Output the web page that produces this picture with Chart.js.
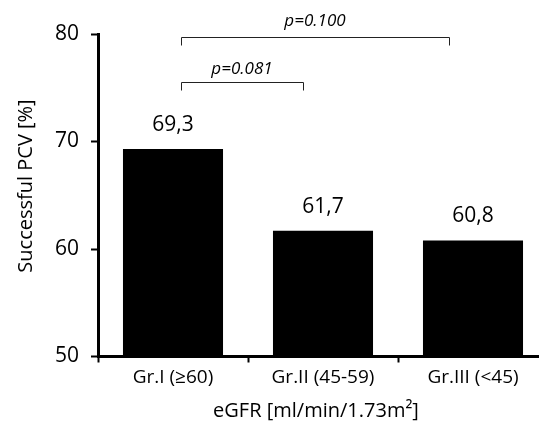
<!DOCTYPE html>
<html>
<head>
<meta charset="utf-8">
<script src="https://cdn.jsdelivr.net/npm/chart.js@4.4.1/dist/chart.umd.min.js"></script>
<style>
  html, body { margin: 0; padding: 0; overflow: hidden; background: #fff; width: 539px; height: 423px; }
  #wrap { position: absolute; left: 0; top: 0; width: 548px; height: 423px; }
</style>
</head>
<body>
<div id="wrap"><canvas id="c" width="548" height="423"></canvas></div>
<script>
const categories = ['Gr.I (\u226560)', 'Gr.II (45-59)', 'Gr.III (<45)'];
const values = [69.3, 61.7, 60.8];
const valueLabels = ['69,3', '61,7', '60,8'];
const yTicks = [50, 60, 70, 80];
const yTitle = 'Successful PCV [%]';
const xTitle = 'eGFR [ml/min/1.73m\u00B2]';
// comparisons: from category, to category, bracket level (y value), label
const compFrom = [0, 0];
const compTo = [1, 2];
const compLevel = [75.5, 79.7];
const compLabel = ['p=0.081', 'p=0.100'];

const FONT = '"Open Sans", sans-serif';

const annotate = {
  id: 'annotate',
  afterDatasetsDraw(chart) {
    const ctx = chart.ctx;
    const xs = chart.scales.x, ys = chart.scales.y;
    const meta = chart.getDatasetMeta(0);
    ctx.save();
    ctx.fillStyle = '#000';
    ctx.font = '21px ' + FONT;
    ctx.textAlign = 'center';
    ctx.textBaseline = 'middle';
    meta.data.forEach((bar, i) => {
      ctx.fillText(valueLabels[i], bar.x, bar.y - 24);
    });
    ctx.strokeStyle = '#222';
    ctx.lineWidth = 1;
    ctx.font = 'italic 17px ' + FONT;
    compFrom.forEach((f, k) => {
      const x1 = xs.getPixelForValue(f) + 8;
      const x2 = xs.getPixelForValue(compTo[k]) - 20 - 4 * k;
      const y = Math.round(ys.getPixelForValue(compLevel[k])) + 0.5;
      ctx.beginPath();
      ctx.moveTo(Math.round(x1) + 0.5, y + 8);
      ctx.lineTo(Math.round(x1) + 0.5, y);
      ctx.lineTo(Math.round(x2) + 0.5, y);
      ctx.lineTo(Math.round(x2) + 0.5, y + 8);
      ctx.stroke();
      ctx.fillStyle = '#000';
      ctx.fillText(compLabel[k], (x1 + x2) / 2, y - 13 - 3 * k);
    });
    ctx.font = '20px ' + FONT;
    ctx.fillText(xTitle, 316, 411);
    ctx.save();
    ctx.translate(26, 186);
    ctx.rotate(-Math.PI / 2);
    ctx.font = '20px ' + FONT;
    ctx.fillText(yTitle, 0, 0);
    ctx.restore();
    ctx.restore();
  }
};

function draw() {
  new Chart(document.getElementById('c'), {
    type: 'bar',
    data: {
      labels: categories,
      datasets: [{
        data: values,
        backgroundColor: '#000',
        borderWidth: 0,
        categoryPercentage: 0.667,
        barPercentage: 1.0
      }]
    },
    options: {
      responsive: false,
      animation: false,
      layout: { padding: { top: 34, right: 0, left: 0, bottom: 0 } },
      plugins: { legend: { display: false }, tooltip: { enabled: false } },
      scales: {
        x: {
          offset: true,
          grid: { display: true, drawOnChartArea: false, drawTicks: true, tickLength: 6, tickWidth: 2, color: '#000', offset: true },
          border: { display: true, color: '#000', width: 3 },
          ticks: { color: '#000', font: { family: FONT, size: 19 }, padding: 4, maxRotation: 0 },
          afterFit(scale) { scale.height = 66.5; }
        },
        y: {
          min: 50, max: 80,
          afterBuildTicks(scale) { scale.ticks = yTicks.map(v => ({ value: v })); },
          grid: { display: true, drawOnChartArea: false, drawTicks: true, tickLength: 7, tickWidth: 2, color: '#000' },
          border: { display: true, color: '#000', width: 3 },
          ticks: { color: '#000', font: { family: FONT, size: 21 }, padding: 12 },
          afterFit(scale) { scale.width = 98; }
        }
      }
    },
    plugins: [annotate]
  });
}

if (document.fonts && document.fonts.load) {
  Promise.all([
    document.fonts.load('20px "Open Sans"'),
    document.fonts.load('italic 17px "Open Sans"')
  ]).then(draw, draw);
} else {
  draw();
}
</script>
</body>
</html>
